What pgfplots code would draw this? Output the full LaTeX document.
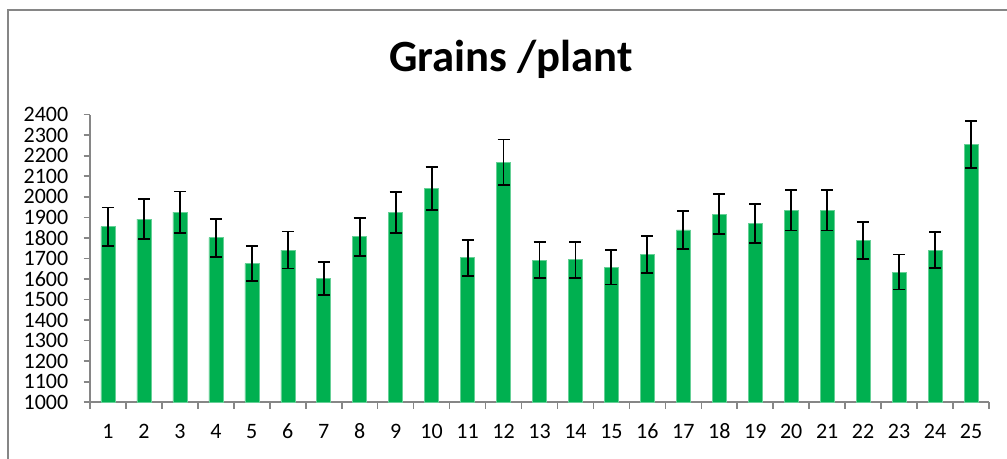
\documentclass[border=0pt]{standalone}
\usepackage{pgfplots}
\pgfplotsset{compat=1.18}
\usepackage{pgfplotstable}
\usepackage{fontspec}
\setmainfont{Carlito}
\definecolor{bargreen}{HTML}{00B050}
\definecolor{axgray}{HTML}{868686}
\pgfplotstableread{
x y err
1 1855 93
2 1892 97
3 1926 100
4 1801 93
5 1675 86
6 1741 90
7 1602 81
8 1806 93
9 1923 99
10 2042 104
11 1704 88
12 2168 111
13 1691 88
14 1694 88
15 1657 84
16 1720 90
17 1839 94
18 1915 97
19 1870 94
20 1935 99
21 1935 99
22 1789 90
23 1634 85
24 1740 87
25 2254 115
}\datatable
\begin{document}
\begin{tikzpicture}
\useasboundingbox (0,0) rectangle (755.25pt,343.5pt);
\draw[axgray, line width=1.1pt] (6pt,-20pt) -- (6pt,336pt) -- (780pt,336pt);
\node[anchor=base, font=\fontsize{33.5}{40}\selectfont\bfseries] at (383.25pt,289.5pt) {Grains /plant};
\begin{axis}[
  at={(67.5pt,41.8pt)}, anchor=south west,
  scale only axis, width=674.25pt, height=215.7pt,
  xmin=0.5, xmax=25.5, ymin=1000, ymax=2400,
  axis x line*=bottom, axis y line*=left,
  axis line style={axgray, line width=1.2pt, -},
  every tick/.style={axgray, line width=1.2pt},
  tick align=outside,
  major tick length=4.8pt,
  xtick={0.5,1.5,...,25.5}, xticklabels={},
  extra x ticks={1,...,25},
  extra x tick style={major tick length=0pt, xticklabel style={yshift=-12.5pt, text height=11pt, text depth=0pt}},
  ytick={1000,1100,...,2400},
  /pgf/number format/assume math mode=true,
  /pgf/number format/set thousands separator={},
  ticklabel style={font=\fontsize{16.5}{18}\selectfont, text=black},
  yticklabel style={xshift=-8pt},
]
\addplot[ybar, bar width=10.5pt, fill=bargreen, draw=bargreen!60!white, line width=0.4pt,
  error bars/.cd, y dir=both, y explicit,
  error bar style={black, line width=1.4pt},
  error mark options={black, line width=1.4pt, mark size=4.5pt, rotate=90}]
  table[x=x, y=y, y error=err] {\datatable};
\end{axis}
\end{tikzpicture}
\end{document}
